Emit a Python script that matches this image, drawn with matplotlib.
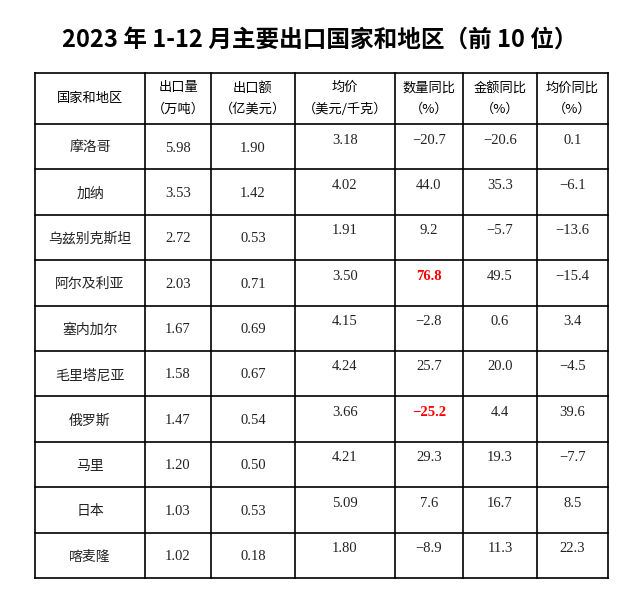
import matplotlib
matplotlib.use("Agg")
import matplotlib.pyplot as plt

plt.rcParams["font.family"] = ["Liberation Serif", "Noto Sans CJK SC"]

title = "2023 年 1-12 月主要出口国家和地区（前 10 位）"
headers = ["国家和地区", "出口量\n（万吨）", "出口额\n（亿美元）", "均价\n（美元/千克）",
           "数量同比\n（%）", "金额同比\n（%）", "均价同比\n（%）"]
countries = ["摩洛哥", "加纳", "乌兹别克斯坦", "阿尔及利亚", "塞内加尔",
             "毛里塔尼亚", "俄罗斯", "马里", "日本", "喀麦隆"]
volume = ["5.98", "3.53", "2.72", "2.03", "1.67", "1.58", "1.47", "1.20", "1.03", "1.02"]
value = ["1.90", "1.42", "0.53", "0.71", "0.69", "0.67", "0.54", "0.50", "0.53", "0.18"]
price = ["3.18", "4.02", "1.91", "3.50", "4.15", "4.24", "3.66", "4.21", "5.09", "1.80"]
vol_yoy = ["-20.7", "44.0", "9.2", "76.8", "-2.8", "25.7", "-25.2", "29.3", "7.6", "-8.9"]
val_yoy = ["-20.6", "35.3", "-5.7", "49.5", "0.6", "20.0", "4.4", "19.3", "16.7", "11.3"]
price_yoy = ["0.1", "-6.1", "-13.6", "-15.4", "3.4", "-4.5", "39.6", "-7.7", "8.5", "22.3"]
highlight = {(3, 4), (6, 4)}  # (row, col) shown in red

W, H = 640, 602
fig = plt.figure(figsize=(W / 100, H / 100), dpi=100)
ax = fig.add_axes([0, 0, 1, 1])
ax.set_xlim(0, W); ax.set_ylim(H, 0); ax.axis("off")

xs = [35, 145, 211, 295, 395, 463, 537, 608]
top, head_bot, row_h = 73, 124, 45.4
ys = [top, head_bot] + [head_bot + row_h * (i + 1) for i in range(len(countries))]

ax.text(320, 40, title, ha="center", va="center", fontsize=17, fontweight="bold",
        family=["Noto Sans CJK SC"])

for x in xs:
    ax.plot([x, x], [ys[0], ys[-1]], color="black", lw=1.2)
for y in ys:
    ax.plot([xs[0], xs[-1]], [y, y], color="black", lw=1.2)

for j, h in enumerate(headers):
    cx = (xs[j] + xs[j + 1]) / 2
    ax.text(cx, (top + head_bot) / 2, h, ha="center", va="center", fontsize=9.5,
            linespacing=1.8, family=["Noto Sans CJK SC"])

cols = [countries, volume, value, price, vol_yoy, val_yoy, price_yoy]
for i in range(len(countries)):
    y0 = ys[i + 1]
    for j, col in enumerate(cols):
        cx = (xs[j] + xs[j + 1]) / 2
        txt = col[i].replace("-", "\u2212")
        cy = y0 + 24 if j < 3 else y0 + 16
        red = (i, j) in highlight
        fam = ["Noto Sans CJK SC"] if j == 0 else ["Liberation Serif"]
        ax.text(cx, cy, txt, ha="center", va="center", fontsize=10.5 if j else 10,
                color="red" if red else "#222222", fontweight="bold" if red else "normal",
                family=fam)

fig.savefig("out.png", dpi=100)
